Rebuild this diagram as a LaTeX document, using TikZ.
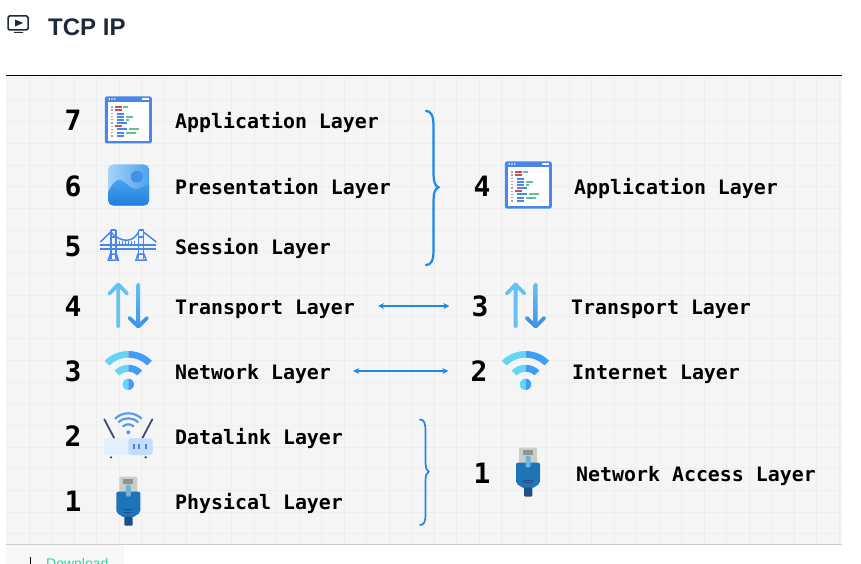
\documentclass[tikz,border=0pt]{standalone}
\usepackage{fontspec}
\setmainfont{Liberation Sans}
\setmonofont{DejaVu Sans Mono}
\usetikzlibrary{arrows.meta}

\definecolor{framecol}{HTML}{4A86E8}
\definecolor{bracecol}{HTML}{1E88E5}
\definecolor{navycol}{HTML}{1E293B}
\definecolor{wifilight}{HTML}{66D4F5}
\definecolor{wifidark}{HTML}{3F9DF5}
\definecolor{plugblue}{HTML}{1F74B8}
\definecolor{plugcable}{HTML}{1F4E85}
\definecolor{pluggray}{HTML}{C9CEC9}
\definecolor{plugstrip}{HTML}{8E9490}
\definecolor{plugtab}{HTML}{6FB3D8}
\definecolor{imglight}{HTML}{A5D3F8}
\definecolor{imgmid}{HTML}{4CA3EE}
\definecolor{imgdark}{HTML}{1E7FE0}
\definecolor{arrowlight}{HTML}{66C2F2}
\definecolor{arrowdark}{HTML}{3F96E6}
\definecolor{codered}{HTML}{C2505F}
\definecolor{codegreen}{HTML}{5CC2A0}
\definecolor{routerlight}{HTML}{E3EFFC}
\definecolor{routermid}{HTML}{C5DCFB}
\definecolor{routerdark}{HTML}{3D4A80}
\definecolor{routerwave}{HTML}{5B9BEA}
\definecolor{downloadcol}{HTML}{34D399}

\tikzset{
	layernum/.style={inner sep=0, anchor=center, text height=20pt, text depth=0pt, font=\fontsize{28}{28}\ttfamily\bfseries},
	layerlabel/.style={inner sep=0, anchor=west, text height=16pt, text depth=0pt, font=\fontsize{19.9}{20}\ttfamily\bfseries},
	link/.style={draw=bracecol, line width=1.2pt, {Stealth[length=6pt,width=6pt]}-{Stealth[length=6pt,width=6pt]}},
	curly/.style={draw=bracecol, line cap=round},
	codewin/.pic={
		\fill[framecol, rounded corners=2pt] (-23.5,-23.5) rectangle (23.5,23.5);
		\fill[white] (-20,-18.3) rectangle (20.7,20.7);
		\foreach \d in {-19,-16.3,-13.6} \fill[white] (\d,-21) circle (0.9);
		\fill[white] (14,-21.7) rectangle (20.5,-20.3);
		\foreach \y/\xa/\xb/\c in {-13/-13.3/-6.7/codered, -13/-5/0/codegreen, -10/-13.3/-6.7/codered,
			-6.3/-11/-4.3/framecol, -3.3/-11/-4.3/framecol, -3.3/-2.3/5/codegreen, -0.3/-11/-4.3/framecol, -0.3/-2.3/1/codegreen,
			3/-11/-1/framecol, 6.3/-13.3/-6.7/codered, 9.3/-11/-1/framecol, 9.3/1/11/codegreen,
			12.7/-11/-4.3/framecol, 12.7/-2.3/7.7/codegreen, 16/-11/-4.3/framecol} {
			\fill[\c] (\xa,\y-0.9) rectangle (\xb,\y+0.9);
			\fill[gray!70] (-17,\y-0.6) rectangle (-15.5,\y+0.6);
		}
	},
	imgicon/.pic={
		\begin{scope}
			\clip[rounded corners=5pt] (-20.5,-20.5) rectangle (20.5,20.5);
			\shade[left color=imglight, right color=imgmid] (-20.5,-20.5) rectangle (20.5,20.5);
			\shade[top color=imgmid, bottom color=imgdark] (-20.5,7) .. controls (-16,-2) and (-12,-6) .. (-8,-5) .. controls (-3,-4) and (1,4) .. (7,4) .. controls (11,4) and (16,1) .. (20.5,-2) -- (20.5,20.5) -- (-20.5,20.5) -- cycle;
		\end{scope}
		\fill[imgdark!85!white] (8.2,-8.3) circle (6);
	},
	bridge/.pic={
		\draw[framecol, line width=2pt] (-28,0) -- (28,0);
		\draw[framecol, line width=1.6pt] (-28,4) -- (28,4);
		\foreach \t in {-15,12.7} {
			\draw[framecol, line width=1.8pt] (\t-2.5,-15) -- (\t-2.5,14) (\t+2.5,-15) -- (\t+2.5,14) (\t-2.5,-15) -- (\t+2.5,-15) (\t-2.5,-8) -- (\t+2.5,-8);
			\draw[framecol, line width=1.5pt] (\t-5,15) -- (\t+5,15) -- (\t+3,9) -- (\t-3,9) -- cycle;
		}
		\draw[framecol, line width=1.5pt] (-17.5,-13) .. controls (-8,-2) and (5,-2) .. (10.2,-13);
		\draw[framecol, line width=1.5pt] (-17.5,-13) -- (-28,-3) (15.2,-13) -- (28,-3);
		\foreach \h in {-9,-6,-3,0,3,6} \draw[framecol, line width=1pt] (\h,-4.5) -- (\h,0);
	},
	updown/.pic={
		\draw[arrowlight, line width=3.8pt, line cap=round, line join=round] (-9.7,21) -- (-9.7,-21) (-18.5,-12) -- (-9.7,-21) -- (-0.9,-12);
		\shade[top color=arrowlight, bottom color=arrowdark, rounded corners=1.9pt] (8.4,-22.9) rectangle (12.2,20);
		\draw[arrowdark, line width=3.8pt, line cap=round, line join=round] (1.5,12.5) -- (10.3,21) -- (19,12.5);
	},
	wifi/.pic={
		\fill[wifilight] (-135:33.3) arc (-135:-90:33.3) -- (-90:26.7) arc (-90:-135:26.7) -- cycle;
		\fill[wifidark] (-45:33.3) arc (-45:-90:33.3) -- (-90:26.7) arc (-90:-45:26.7) -- cycle;
		\fill[wifilight] (-135:19.5) arc (-135:-90:19.5) -- (-90:12.7) arc (-90:-135:12.7) -- cycle;
		\fill[wifidark] (-45:19.5) arc (-45:-90:19.5) -- (-90:12.7) arc (-90:-45:12.7) -- cycle;
		\fill[wifilight] (0,-5.7) arc (-90:-270:5.7) -- cycle;
		\fill[wifidark] (0,-5.7) arc (-90:90:5.7) -- cycle;
	},
	router/.pic={
		\draw[routerdark, line width=1.8pt, line cap=round] (-24,-13) -- (-14,6) (24,-13) -- (14,6);
		\fill[routerlight, rounded corners=3pt] (-24.3,6) rectangle (24.4,22.7);
		\fill[routermid, rounded corners=3pt] (0,6) rectangle (24.4,22.7);
		\foreach \d in {5.7,10.7,17.4} \fill[framecol] (\d-1,11.5) rectangle (\d+1,17);
		\foreach \d in {-17.3,17.4} \fill[routerdark] (\d,25) circle (1.3);
		\foreach \r in {8,14,19} \draw[routerwave, line width=2.2pt] (-135:\r) arc (-135:-45:\r);
		\fill[routerwave] (0,0) circle (2);
	},
	plug/.pic={
		\fill[pluggray, rounded corners=1.5pt] (-9,0) rectangle (9,17);
		\fill[plugstrip] (-5,2.5) rectangle (5,7);
		\fill[plugblue, rounded corners=2pt] (-12,15) -- (12,15) -- (12,36) -- (4,41) -- (-4,41) -- (-12,36) -- cycle;
		\fill[plugcable, rounded corners=1pt] (-4,40) rectangle (4.3,49);
		\fill[plugtab, rounded corners=2pt] (-2.5,8) rectangle (2.5,20);
		\draw[plugcable, line width=0.8pt] (-5,32.6) -- (5,32.6) (-4,35.3) -- (4,35.3);
	}
}

\begin{document}
\begin{tikzpicture}[x=1pt, y=-1pt]
	\clip (0,0) rectangle (861,564);
	\fill[white] (0,0) rectangle (861,564);

	% Title
	\node[inner sep=0, anchor=base west, font=\fontsize{24}{24}\bfseries, text=navycol] (title) at (48,36) {TCP IP};
	\draw[navycol, line width=1.5pt, rounded corners=1.5pt] (8,16) rectangle (28,30);
	\fill[navycol] (14,32) rectangle (23,33) (15,19.5) -- (23,23) -- (15,26.5) -- cycle;

	% Panel
	\fill[black!4] (6,76) rectangle (842,544);
	\foreach \x in {0,...,36} \draw[black!7, line width=0.5pt] (29+22.5*\x,76) -- (29+22.5*\x,544);
	\foreach \y in {0,...,21} \draw[black!7, line width=0.5pt] (6,78+21.7*\y) -- (842,78+21.7*\y);
	\draw[black, line width=1pt] (6,75.5) -- (842,75.5);
	\draw[black!20, line width=1pt] (6,544.5) -- (842,544.5);

	% Download tab
	\fill[black!3] (6,545) rectangle (124,564);
	\draw[black, line width=1pt] (30,557) -- (30,564);
	\node[inner sep=0, anchor=base west, font=\fontsize{14}{15}\selectfont, text=downloadcol] (download) at (46,568) {Download};

	% Left layers
	\foreach \i/\row/\name in {7/121/Application Layer, 6/186/Presentation Layer, 5/246/Session Layer, 4/306/Transport Layer, 3/371/Network Layer, 2/436/Datalink Layer, 1/501/Physical Layer} {
		\node[layernum] (num\i) at (73,\row) {\i};
		\node[layerlabel] (label\i) at (175,\row) {\name};
	}

	% Right layers
	\foreach \i/\x/\row/\lx/\name in {4/482/186/574/Application Layer, 3/480/306/571/Transport Layer, 2/479/371/572/Internet Layer, 1/482/473/576/Network Access Layer} {
		\node[layernum] (tcpnum\i) at (\x,\row) {\i};
		\node[layerlabel] (tcplabel\i) at (\lx,\row) {\name};
	}

	% Icons
	\pic at (128.3,120) {codewin};
	\pic at (128.6,185) {imgicon};
	\pic at (128.3,245) {bridge};
	\pic at (128,305.5) {updown};
	\pic at (128.3,384.3) {wifi};
	\pic at (128.3,432.3) {router};
	\pic at (128.3,476.7) {plug};
	\pic at (528.3,185) {codewin};
	\pic at (525.3,305.5) {updown};
	\pic at (525.5,384.3) {wifi};
	\pic at (528,447.5) {plug};

	% Arrows
	\draw[link, shorten <=23pt, shorten >=22pt] (label4.east) -- (tcpnum3.west);
	\draw[link, shorten <=22pt, shorten >=22pt] (label3.east) -- (tcpnum2.west);

	% Braces
	\coordinate (topa) at (426,111);
	\coordinate (tipa) at (438.5,187.3);
	\coordinate (bota) at (426,265);
	\draw[curly, line width=2.2pt] (topa) .. controls (431,111) and (433.5,115) .. (433.5,127) -- (433.5,172) .. controls (433.5,182) and (435,186) .. (tipa) .. controls (435,189) and (433.5,192) .. (433.5,203) -- (433.5,250) .. controls (433.5,261) and (431,265) .. (bota);
	\coordinate (topb) at (420,419.5);
	\coordinate (tipb) at (428.7,471.7);
	\coordinate (botb) at (420,525);
	\draw[curly, line width=1.7pt] (topb) .. controls (424,419.5) and (425.5,423) .. (425.5,431) -- (425.5,461) .. controls (425.5,468) and (426.5,470.5) .. (tipb) .. controls (426.5,473) and (425.5,475) .. (425.5,482) -- (425.5,514) .. controls (425.5,522) and (424,525) .. (botb);
\end{tikzpicture}
\end{document}
